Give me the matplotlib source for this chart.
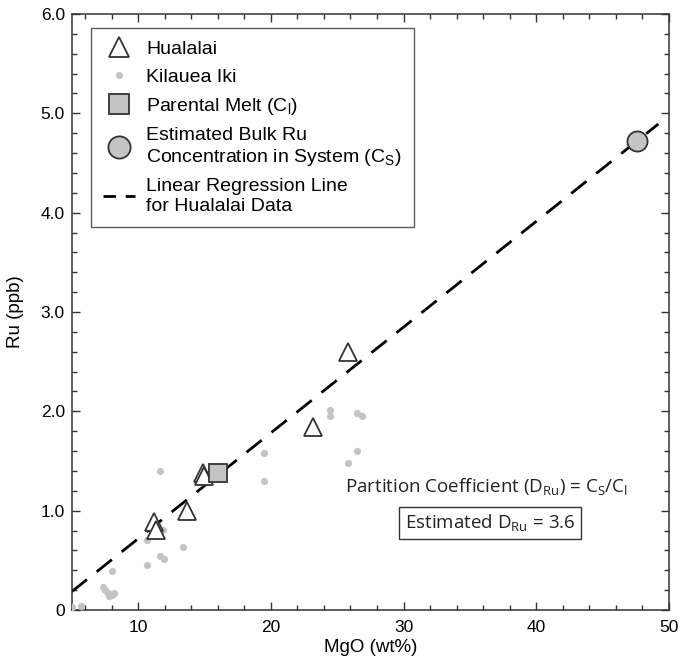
import numpy as np
import matplotlib
matplotlib.use("Agg")
import matplotlib.pyplot as plt
from matplotlib.lines import Line2D

plt.rcParams['font.family'] = ['Liberation Sans', 'DejaVu Sans']

# Hualalai samples (MgO wt%, Ru ppb)
hual_mgo = [11.2, 11.35, 13.67, 14.92, 15.0, 23.2, 25.8]
hual_ru = [0.89, 0.81, 1.00, 1.38, 1.35, 1.84, 2.60]

# Kilauea Iki samples
kil_mgo = [5.0, 5.7, 8.0, 7.38, 7.51, 7.76, 8.06, 8.19, 7.84,
           11.67, 11.9, 10.7, 13.4, 11.67, 11.97, 10.7,
           24.47, 24.47, 26.5, 26.85, 19.5, 19.5, 26.5, 25.8]
kil_ru = [0.03, 0.04, 0.39, 0.23, 0.20, 0.17, 0.15, 0.17, 0.14,
          1.40, 0.81, 0.70, 0.63, 0.54, 0.51, 0.45,
          2.01, 1.95, 1.98, 1.95, 1.58, 1.30, 1.60, 1.48]

# parental melt and bulk estimate
melt_mgo, melt_ru = [16.05], [1.38]
bulk_mgo, bulk_ru = [47.6], [4.72]

# regression line
reg_slope = 0.1065
reg_intercept = -0.3475
reg_range = [5.0, 49.2]

x_ticks = [10, 20, 30, 40, 50]
y_ticks = [0, 1, 2, 3, 4, 5, 6]
y_tick_labels = ['0', '1.0', '2.0', '3.0', '4.0', '5.0', '6.0']

fig = plt.figure(figsize=(6.99, 6.62), dpi=100)
ax = fig.add_axes([0.1026, 0.0785, 0.957 - 0.1026, 0.9789 - 0.0785])

edge = '#333333'
gray = '#c4c4c4'

xr = np.array(reg_range)
ax.plot(xr, reg_intercept + reg_slope * xr, color='black', lw=2.0,
        dashes=(7, 4.5), zorder=2)
ax.plot(kil_mgo, kil_ru, 'o', ms=5.2, color=gray, mec='none', zorder=3)
ax.plot(hual_mgo, hual_ru, '^', ms=13, mfc='white', mec=edge, mew=1.3, zorder=4)
ax.plot(melt_mgo, melt_ru, 's', ms=13, mfc=gray, mec=edge, mew=1.3, zorder=5)
ax.plot(bulk_mgo, bulk_ru, 'o', ms=14.5, mfc=gray, mec=edge, mew=1.3, zorder=5)

ax.set_xlim(5, 50)
ax.set_ylim(0, 6)
ax.set_xticks(x_ticks)
ax.set_xticks(np.arange(6, 50, 2), minor=True)
ax.set_yticks(y_ticks)
ax.set_yticklabels(y_tick_labels)
ax.set_yticks(np.arange(0, 6.01, 0.2), minor=True)
ax.tick_params(which='both', direction='in', top=True, right=True,
               color=edge, labelsize=12.5, width=1)
ax.tick_params(which='major', length=6, pad=5)
ax.tick_params(axis='x', which='major', pad=7)
ax.tick_params(which='minor', length=3.5)
for s in ax.spines.values():
    s.set_color(edge)
    s.set_linewidth(1.1)

ax.set_xlabel('MgO (wt%)', fontsize=13.5, labelpad=3)
ax.set_ylabel('Ru (ppb)', fontsize=13.5, labelpad=12)

handles = [
    Line2D([], [], ls='none', marker='^', ms=15, mfc='white', mec=edge, mew=1.3),
    Line2D([], [], ls='none', marker='o', ms=5.2, color=gray, mec='none'),
    Line2D([], [], ls='none', marker='s', ms=14, mfc=gray, mec=edge, mew=1.3),
    Line2D([], [], ls='none', marker='o', ms=16, mfc=gray, mec=edge, mew=1.3),
    Line2D([], [], color='black', lw=2.0, dashes=(4.5, 3.5)),
]
labels = [
    'Hualalai',
    'Kilauea Iki',
    r'Parental Melt (C$_\mathregular{l}$)',
    'Estimated Bulk Ru\nConcentration in System (C$_\mathregular{S}$)',
    'Linear Regression Line\nfor Hualalai Data',
]
leg = ax.legend(handles, labels, loc='upper left', bbox_to_anchor=(0.032, 0.977),
                borderaxespad=0, fontsize=14, frameon=True, fancybox=False,
                edgecolor=edge, handlelength=1.6, handletextpad=0.6,
                labelspacing=0.52, borderpad=0.65)
leg.get_frame().set_linewidth(1.0)

ax.text(0.694, 0.206, r'Partition Coefficient (D$_\mathregular{Ru}$) = C$_\mathregular{S}$/C$_\mathregular{l}$',
        transform=ax.transAxes, ha='center', va='center', fontsize=13.5,
        family=['Open Sans', 'DejaVu Sans'], color='#222222')
ax.text(0.70, 0.146, r'Estimated D$_\mathregular{Ru}$ = 3.6',
        transform=ax.transAxes, ha='center', va='center', fontsize=13.5,
        family=['Open Sans', 'DejaVu Sans'], color='#222222',
        bbox=dict(boxstyle='square,pad=0.3', fc='white', ec=edge, lw=1.0))

fig.savefig('out.png', dpi=100)
